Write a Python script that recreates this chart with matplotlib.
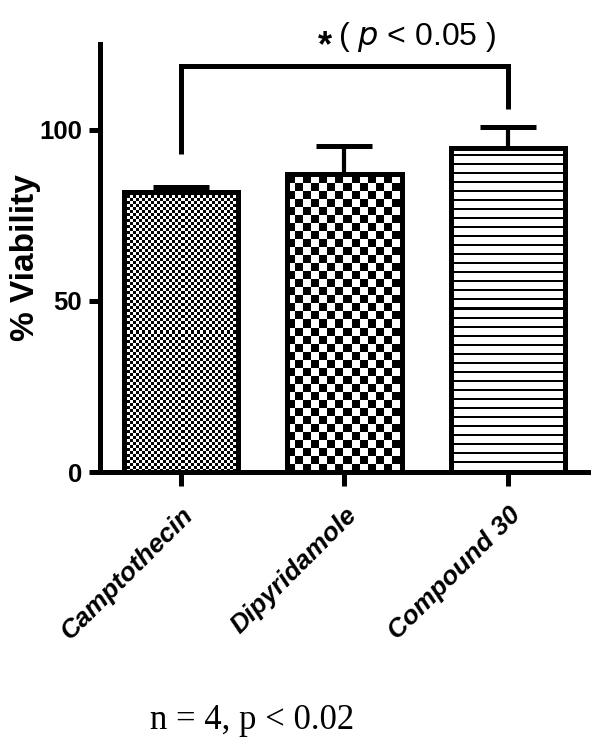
import matplotlib
matplotlib.use("Agg")
import matplotlib.pyplot as plt
import numpy as np

categories = ["Camptothecin", "Dipyridamole", "Compound 30"]
viability = [81.8, 87.1, 94.7]
sem_upper = [1.3, 8.2, 6.0]
y_ticks = [0, 50, 100]

DPI = 100
LW = 3.6


def fill_pattern(ax, bar, kind, cell):
    # paint a pixel texture inside the bar, clipped to its outline
    x0, y0 = bar.get_x(), bar.get_y()
    x1, y1 = x0 + bar.get_width(), y0 + bar.get_height()
    (px0, py0), (px1, py1) = ax.transData.transform([(x0, y0), (x1, y1)])
    w = int(round(px1 - px0))
    h = int(round(py1 - py0))
    jj, ii = np.meshgrid(np.arange(w), np.arange(h))
    if kind == "checker":
        img = ((ii // cell + jj // cell) % 2).astype(float)
    else:
        img = ((ii % cell) >= 2).astype(float)
    im = ax.imshow(img, cmap="gray", vmin=0, vmax=1, extent=(x0, x1, y0, y1),
                   origin="lower", aspect="auto", interpolation="nearest",
                   zorder=1.5)
    im.set_clip_path(bar)


def main():
    fig = plt.figure(figsize=(6.01, 7.54), dpi=DPI)
    ax = fig.add_axes([0.1664, 0.374, 0.812, 0.5676])
    x = np.arange(len(categories))

    ax.set_xlim(-0.495, 2.49)
    ax.set_ylim(0, 125)

    bars = ax.bar(x, viability, width=0.70, facecolor="none",
                  edgecolor="black", linewidth=LW, zorder=3)
    ax.errorbar(x, viability, yerr=[np.zeros(len(x)), sem_upper], fmt="none",
                ecolor="black", elinewidth=3.0, capsize=20, capthick=LW,
                zorder=1)

    fill_pattern(ax, bars[0], "checker", 3)
    fill_pattern(ax, bars[1], "checker", 8)
    fill_pattern(ax, bars[2], "stripes", 9)
    ax.set_xlim(-0.495, 2.49)
    ax.set_ylim(0, 125)

    # significance bracket
    ax.plot([x[0], x[0], x[2], x[2]], [93, 118.7, 118.7, 106],
            color="black", linewidth=LW, solid_capstyle="butt",
            solid_joinstyle="miter", clip_on=False)
    ax.text(0.88, 124.2, "*", ha="center", va="center", fontsize=26,
            fontweight="bold", family="Liberation Sans", clip_on=False)
    ax.text(0.96, 127.2, "( $\\mathit{p}$ < 0.05 )", ha="left", va="center",
            fontsize=23, family="Liberation Sans", clip_on=False)

    for s in ["top", "right"]:
        ax.spines[s].set_visible(False)
    for s in ["left", "bottom"]:
        ax.spines[s].set_linewidth(LW)

    ax.set_yticks(y_ticks)
    ax.set_yticklabels([str(t) for t in y_ticks], fontsize=18.5, fontweight="bold",
                       family="Liberation Sans")
    ax.tick_params(axis="y", length=8, width=LW, pad=5)
    ax.set_xticks(x)
    ax.set_xticklabels(categories, rotation=45, ha="right",
                       rotation_mode="anchor", fontsize=19, fontweight="bold",
                       fontstyle="italic", family="Liberation Sans")
    ax.tick_params(axis="x", length=10, width=LW, pad=12)
    ax.set_ylabel("% Viability", fontsize=24, fontweight="bold",
                  family="Liberation Sans")
    ax.yaxis.set_label_coords(-0.12, 0.5)

    fig.text(0.419, 0.045, "n = 4, p < 0.02", ha="center", va="center",
             fontsize=25, family="Liberation Serif")

    fig.savefig("out.png", dpi=DPI)


if __name__ == '__main__':
    main()
